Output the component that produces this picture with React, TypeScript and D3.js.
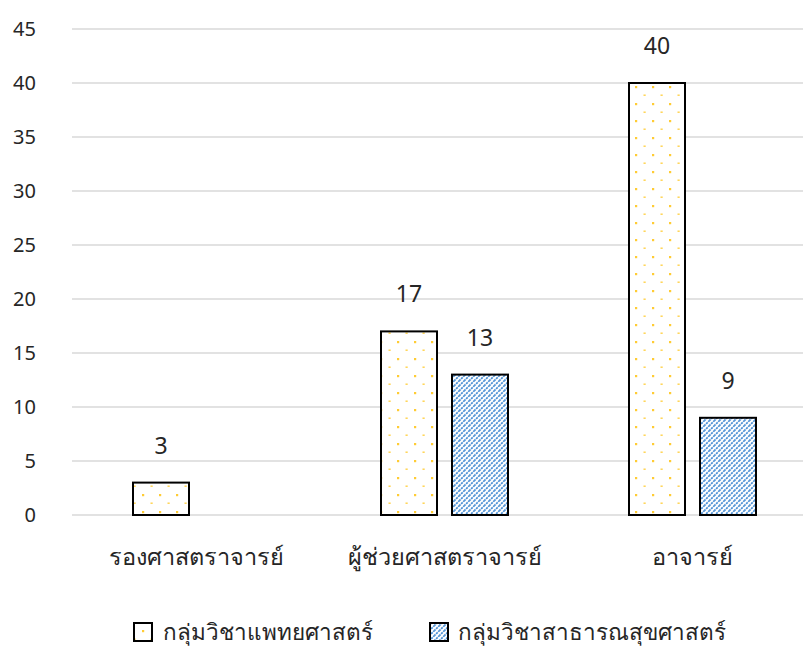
import React from "react";
import * as d3 from "d3";

const categories = ["รองศาสตราจารย์", "ผู้ช่วยศาสตราจารย์", "อาจารย์"];
const seriesNames = ["กลุ่มวิชาแพทยศาสตร์", "กลุ่มวิชาสาธารณสุขศาสตร์"];
const medicine: (number | null)[] = [3, 17, 40];
const publicHealth: (number | null)[] = [null, 13, 9];
const yTicks = [0, 5, 10, 15, 20, 25, 30, 35, 40, 45];

const W = 803;
const H = 648;
const FONT = "'Noto Sans', 'DejaVu Sans', sans-serif";

export default function App() {
  const x = d3.scaleBand<string>().domain(categories).range([72.5, 816.5]).paddingInner(0).paddingOuter(0);
  const y = d3.scaleLinear().domain([0, 45]).range([515, 29]);
  const barW = 56;
  const gap = 15;
  const series = [medicine, publicHealth];
  const fills = ["url(#dots)", "url(#diag)"];

  return (
    <svg width={W} height={H} style={{ position: "absolute", left: 0, top: 0 }} fontFamily={FONT}>
      <defs>
        <pattern id="dots" patternUnits="userSpaceOnUse" width={17} height={17} x={0} y={0}>
          <rect width={17} height={17} fill="#ffffff" />
          <rect x={6} y={1} width={2.2} height={2.2} fill="#ffcc33" />
          <rect x={14.5} y={9.5} width={2.2} height={1.4} fill="#ffcc33" opacity={0.9} />
        </pattern>
        <pattern id="diag" patternUnits="userSpaceOnUse" width={5} height={5}>
          <rect width={5} height={5} fill="#ffffff" />
          <path d="M-1,6 L6,-1 M-1,1 L1,-1 M4,6 L6,4" stroke="#4a8fd4" strokeWidth={1.7} strokeDasharray="2.2 0.8" />
        </pattern>
      </defs>
      <rect width={W} height={H} fill="#ffffff" />
      {yTicks.map((t) => (
        <g key={t}>
          <line x1={72} x2={W} y1={y(t)} y2={y(t)} stroke="#d9d9d9" strokeWidth={1.5} />
          <text x={36} y={y(t)} dy="0.35em" textAnchor="end" fontSize={20} fill="#262626">
            {t}
          </text>
        </g>
      ))}
      {categories.map((c, i) => {
        const cx = (x(c) as number) + x.bandwidth() / 2;
        return (
          <g key={c}>
            {series.map((s, j) => {
              const v = s[i];
              if (v == null) return null;
              const bx = j === 0 ? cx - gap / 2 - barW : cx + gap / 2;
              return (
                <g key={j}>
                  <rect x={bx} y={y(v)} width={barW} height={y(0) - y(v)} fill={fills[j]} stroke="#000" strokeWidth={2} />
                  <text x={bx + barW / 2} y={y(v) - 29} textAnchor="middle" fontSize={23} fill="#262626">
                    {v}
                  </text>
                </g>
              );
            })}
            <text x={cx} y={557} dy="0.35em" textAnchor="middle" fontSize={23.5} fill="#262626">
              {c}
            </text>
          </g>
        );
      })}
      <g>
        <rect x={134} y={623} width={18} height={18} fill="url(#dots)" stroke="#000" strokeWidth={2} />
        <text x={163} y={632} dy="0.35em" fontSize={22.5} fill="#262626">{seriesNames[0]}</text>
        <rect x={430} y={623} width={18} height={18} fill="url(#diag)" stroke="#000" strokeWidth={2} />
        <text x={458} y={632} dy="0.35em" fontSize={22.5} fill="#262626">{seriesNames[1]}</text>
      </g>
    </svg>
  );
}
